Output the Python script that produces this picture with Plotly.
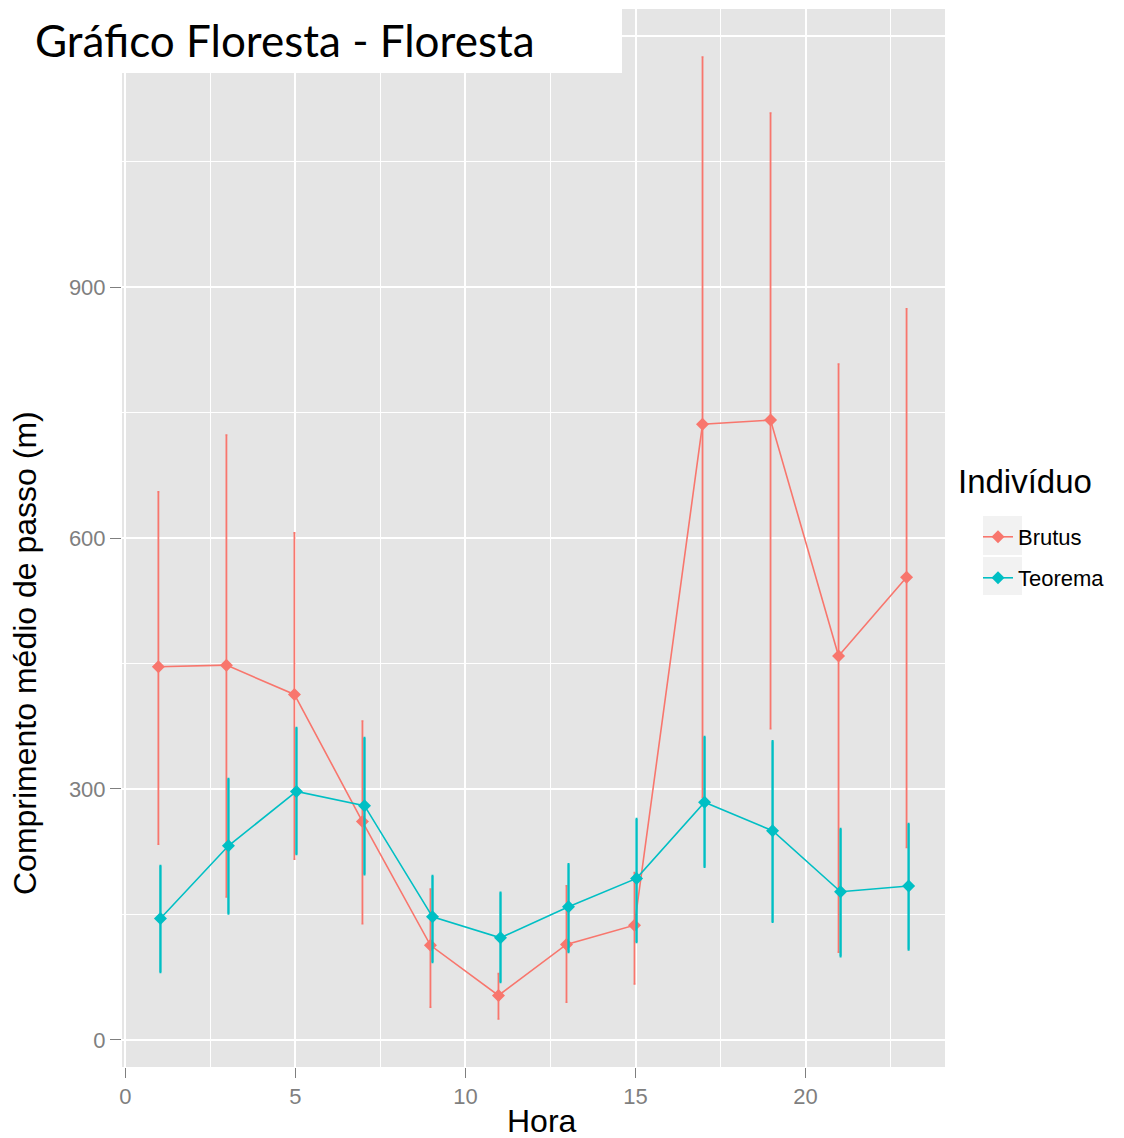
import plotly.graph_objects as go

# ---------------- data ----------------
hora = [1, 3, 5, 7, 9, 11, 13, 15, 17, 19, 21, 23]

brutus_mean = [446, 448, 413, 261, 113, 53, 114, 137, 736, 741, 459, 553]
brutus_upper = [655, 723, 606, 381, 180, 79, 184, 200, 1175, 1108, 808, 874]
brutus_lower = [234, 171, 216, 139, 39, 25, 45, 67, 290, 372, 105, 230]

teorema_mean = [145, 232, 297, 280, 147, 122, 159, 193, 284, 250, 177, 184]
teorema_upper = [208, 312, 373, 361, 196, 176, 210, 264, 362, 357, 252, 258]
teorema_lower = [81, 151, 222, 198, 93, 69, 105, 117, 207, 141, 100, 108]

series_names = ["Brutus", "Teorema"]
x_ticks = [0, 5, 10, 15, 20]
y_ticks = [0, 300, 600, 900, 1200]
y_tick_labels = ["0", "300", "600", "900", ""]  # 1200 is hidden behind the title box

# ---------------- style ----------------
RED = "#F8766D"
TEAL = "#00BFC4"
PANEL = "#E5E5E5"
TICKGREY = "#7F7F7F"
W, H = 1124, 1138
L, R, T, B = 122, 179, 9, 71
PW, PH = W - L - R, H - T - B
DODGE = 0.03


def px_x(px):
    return (px - L) / PW


def px_y(py):
    return (H - B - py) / PH


fig = go.Figure()

series = [
    (series_names[0], brutus_mean, brutus_upper, brutus_lower, RED, -DODGE, "legend", 1.8),
    (series_names[1], teorema_mean, teorema_upper, teorema_lower, TEAL, DODGE, "legend2", 2.4),
]
for name, mean, up, lo, col, dx, leg, thick in series:
    fig.add_trace(go.Scatter(
        x=[h + dx for h in hora], y=mean, name=name, mode="lines+markers",
        line=dict(color=col, width=1.6),
        marker=dict(color=col, size=10, symbol="diamond"),
        error_y=dict(type="data", symmetric=False,
                     array=[u - m for u, m in zip(up, mean)],
                     arrayminus=[m - l for m, l in zip(mean, lo)],
                     color=col, thickness=thick, width=1),
        legend=leg,
    ))

# axis ranges with ggplot-like 5% expansion
xmin, xmax = min(hora), max(hora)
xpad = (xmax - xmin) * 0.05
all_lo = min(brutus_lower + teorema_lower)
all_hi = max(brutus_upper + teorema_upper)
ypad = (all_hi - all_lo) * 0.05

font_axis = "Liberation Sans, Arial, sans-serif"

fig.update_xaxes(
    range=[xmin - xpad, xmax + xpad], tickvals=x_ticks, ticktext=[str(v) for v in x_ticks],
    showgrid=True, gridcolor="white", gridwidth=2, zeroline=False, showline=False,
    ticks="outside", ticklen=10, tickwidth=1, tickcolor=TICKGREY,
    tickfont=dict(family=font_axis, size=22, color=TICKGREY),
    minor=dict(dtick=2.5, tick0=0, showgrid=True, gridcolor="white", gridwidth=1),
)
fig.update_yaxes(
    range=[all_lo - ypad, all_hi + ypad], tickvals=y_ticks, ticktext=y_tick_labels,
    showgrid=True, gridcolor="white", gridwidth=2, zeroline=False, showline=False,
    ticks="outside", ticklen=11, tickwidth=1, tickcolor=TICKGREY,
    tickfont=dict(family=font_axis, size=22, color=TICKGREY),
    minor=dict(dtick=150, tick0=0, showgrid=True, gridcolor="white", gridwidth=1),
)

shapes = [
    # white title box covering part of the panel
    dict(type="rect", xref="paper", yref="paper", layer="above",
         x0=px_x(-5), x1=px_x(622), y0=px_y(73), y1=px_y(-5),
         fillcolor="white", line=dict(width=0)),
    # legend key backgrounds
    dict(type="rect", xref="paper", yref="paper", layer="below",
         x0=px_x(983), x1=px_x(1022), y0=px_y(555), y1=px_y(516),
         fillcolor="#F2F2F2", line=dict(width=0)),
    dict(type="rect", xref="paper", yref="paper", layer="below",
         x0=px_x(983), x1=px_x(1022), y0=px_y(595), y1=px_y(557),
         fillcolor="#F2F2F2", line=dict(width=0)),
]

annotations = [
    dict(text="Gráfico Floresta - Floresta", xref="paper", yref="paper",
         x=px_x(33), y=px_y(40), xanchor="left", yanchor="middle", showarrow=False,
         font=dict(family="Lato, sans-serif", size=44, color="black")),
    dict(text="Comprimento médio de passo (m)", xref="paper", yref="paper",
         x=px_x(25), y=px_y(653), xanchor="center", yanchor="middle", textangle=-90,
         showarrow=False, font=dict(family=font_axis, size=32, color="black")),
    dict(text="Hora", xref="paper", yref="paper",
         x=px_x(542), y=px_y(1121), xanchor="center", yanchor="middle",
         showarrow=False, font=dict(family=font_axis, size=32, color="black")),
    dict(text="Indivíduo", xref="paper", yref="paper",
         x=px_x(956), y=px_y(481), xanchor="left", yanchor="middle",
         showarrow=False, font=dict(family=font_axis, size=33, color="black")),
]

leg_common = dict(bgcolor="rgba(0,0,0,0)", borderwidth=0, xanchor="left", yanchor="middle",
                  font=dict(family=font_axis, size=22, color="black"), itemwidth=30)

fig.update_layout(
    width=W, height=H, autosize=False,
    margin=dict(l=L, r=R, t=T, b=B),
    paper_bgcolor="white", plot_bgcolor=PANEL,
    shapes=shapes, annotations=annotations,
    legend=dict(x=px_x(978), y=px_y(537), **leg_common),
    legend2=dict(x=px_x(978), y=px_y(578), **leg_common),
    showlegend=True,
)

fig.write_html("out.html")
